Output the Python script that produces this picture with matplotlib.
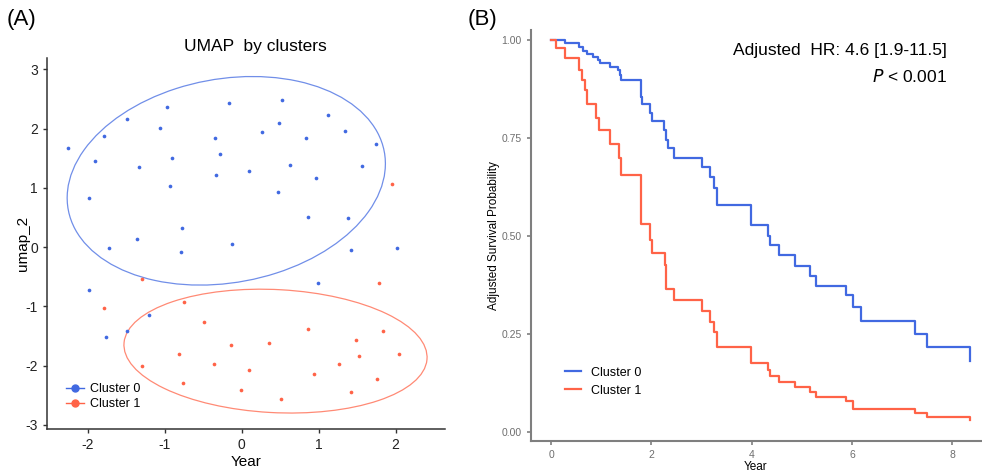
import numpy as np
import matplotlib
matplotlib.use("Agg")
import matplotlib.pyplot as plt
from matplotlib.lines import Line2D
from matplotlib.patches import Ellipse

plt.rcParams['font.family'] = ['Liberation Sans', 'DejaVu Sans']
plt.rcParams['axes.unicode_minus'] = False

# ---------------- Data ----------------
# Panel A: UMAP coordinates
c0_x = [-2.26, -1.79, -1.49, -0.965, -0.16, -1.905, -1.06, -0.35, -0.28, -0.905,
        -1.33, -0.33, 0.10, -0.935, -1.98, -0.78, -1.36, -1.72, -0.12, -0.79,
        0.52, 1.12, 0.485, 0.27, 1.34, 0.835, 1.745, 0.63, 1.56, 0.97,
        0.475, 0.86, 1.385, 1.42, 2.02, -1.98, -1.20, -1.485, -1.77, 0.99]
c0_y = [1.67, 1.88, 2.16, 2.36, 2.44, 1.46, 2.01, 1.85, 1.58, 1.50,
        1.35, 1.21, 1.29, 1.03, 0.83, 0.33, 0.13, -0.01, 0.06, -0.09,
        2.48, 2.23, 2.10, 1.94, 1.96, 1.85, 1.74, 1.38, 1.37, 1.17,
        0.93, 0.51, 0.49, -0.05, -0.01, -0.725, -1.15, -1.42, -1.52, -0.60]
c1_x = [1.96, -1.29, -1.79, -0.75, -0.485, -0.82, -0.14, -1.29, -0.36, 0.09,
        -0.76, -0.01, 1.79, 0.865, 1.84, 1.48, 0.36, 1.53, 2.04, 1.26,
        0.94, 1.76, 0.515, 1.415]
c1_y = [1.06, -0.545, -1.02, -0.92, -1.26, -1.80, -1.66, -2.00, -1.98, -2.07,
        -2.30, -2.41, -0.60, -1.38, -1.41, -1.56, -1.61, -1.84, -1.80, -1.98,
        -2.14, -2.23, -2.56, -2.45]
clusters = ["Cluster 0", "Cluster 1"]

# 95% cluster ellipses (centre, full axes lengths, rotation in degrees)
ell_cx = [-0.20, 0.44]
ell_cy = [1.12, -1.755]
ell_w = [4.256, 3.948]
ell_h = [3.376, 2.076]
ell_angle = [22.7, -4.2]

# Panel B: adjusted survival curves
times0 = [0, 0.27, 0.56, 0.64, 0.71, 0.84, 0.94, 0.97, 1.17, 1.33, 1.37, 1.40,
          1.80, 1.81, 1.97, 2.02, 2.26, 2.30, 2.33, 2.45, 3.01, 3.16, 3.25, 3.31,
          3.99, 4.33, 4.36, 4.55, 4.87, 5.17, 5.28, 5.88, 6.01, 6.18, 7.26, 7.50, 8.36]
surv0 = [1.00, 0.992, 0.983, 0.973, 0.964, 0.957, 0.949, 0.941, 0.932, 0.923, 0.911, 0.898,
         0.855, 0.837, 0.813, 0.793, 0.770, 0.745, 0.724, 0.700, 0.677, 0.650, 0.623, 0.580,
         0.528, 0.500, 0.477, 0.452, 0.424, 0.399, 0.372, 0.349, 0.318, 0.284, 0.249, 0.218, 0.180]
times1 = [0, 0.09, 0.27, 0.56, 0.61, 0.67, 0.71, 0.89, 0.95, 1.17, 1.35, 1.40,
          1.79, 1.80, 1.97, 2.02, 2.27, 2.29, 2.45, 3.01, 3.17, 3.25, 3.31,
          3.99, 4.33, 4.36, 4.55, 4.87, 5.17, 5.28, 5.88, 6.01, 7.26, 7.50, 8.36]
surv1 = [1.00, 0.979, 0.955, 0.925, 0.898, 0.872, 0.837, 0.801, 0.770, 0.736, 0.698, 0.656,
         0.571, 0.531, 0.490, 0.456, 0.426, 0.366, 0.337, 0.308, 0.280, 0.256, 0.217,
         0.175, 0.158, 0.143, 0.128, 0.116, 0.103, 0.090, 0.080, 0.058, 0.048, 0.037, 0.031]

hr_text = "Adjusted  HR: 4.6 [1.9-11.5]"
p_text = r"$\it{P}$ < 0.001"

BLUE = "#4169E1"
RED = "#FF6347"

fig = plt.figure(figsize=(9.82, 4.73), dpi=100)

# ---------------- Panel A ----------------
axA = fig.add_axes([0.0479, 0.093, 0.405, 0.784])
for i, col in enumerate([BLUE, RED]):
    axA.add_patch(Ellipse((ell_cx[i], ell_cy[i]), ell_w[i], ell_h[i], angle=ell_angle[i],
                          fill=False, edgecolor=col, lw=0.9, alpha=0.75, zorder=2))
for xs, ys, col in [(c0_x, c0_y, BLUE), (c1_x, c1_y, RED)]:
    axA.scatter(xs, ys, s=7, color=col, zorder=3, linewidths=0)
axA.set_xlim(-2.53, 2.64)
axA.set_ylim(-3.07, 3.19)
axA.set_xticks([-2, -1, 0, 1, 2])
axA.set_yticks([-3, -2, -1, 0, 1, 2, 3])
for s in ["top", "right"]:
    axA.spines[s].set_visible(False)
for s in ["left", "bottom"]:
    axA.spines[s].set_color("#333333")
    axA.spines[s].set_linewidth(1.1)
axA.tick_params(colors="#333333", labelsize=10, length=3, width=1)
for lab in axA.get_xticklabels() + axA.get_yticklabels():
    lab.set_color("#222222")
axA.set_xlabel("Year", fontsize=11, labelpad=2)
axA.set_ylabel("umap_2", fontsize=11, labelpad=-3)
axA.text(0.523, 1.032, "UMAP  by clusters", transform=axA.transAxes, ha="center", va="center",
         fontsize=12.5)
handlesA = [Line2D([0], [0], color=c, marker="o", markersize=5, lw=1.0) for c in (BLUE, RED)]
axA.legend(handlesA, clusters, loc="lower left", bbox_to_anchor=(0.02, 0.02), frameon=False,
           fontsize=9, handlelength=1.4, handletextpad=0.5, labelspacing=0.25)

# ---------------- Panel B ----------------
axB = fig.add_axes([0.5407, 0.0677, 0.4583, 0.869])
axB.step(times0, surv0, where="post", color=BLUE, lw=1.6, label=clusters[0])
axB.step(times1, surv1, where="post", color=RED, lw=1.6, label=clusters[1])
axB.set_xlim(-0.40, 8.57)
axB.set_ylim(-0.023, 1.026)
axB.set_xticks([0, 2, 4, 6, 8])
axB.set_yticks([0.0, 0.25, 0.5, 0.75, 1.0])
axB.set_yticklabels(["0.00", "0.25", "0.50", "0.75", "1.00"])
for s in ["top", "right"]:
    axB.spines[s].set_visible(False)
for s in ["left", "bottom"]:
    axB.spines[s].set_color("#7f7f7f")
    axB.spines[s].set_linewidth(1.5)
axB.tick_params(colors="#7f7f7f", labelsize=7.5, length=3, width=1.2, labelcolor="#6e6e6e")
axB.set_xlabel("Year", fontsize=8.5, labelpad=1)
axB.set_ylabel("Adjusted Survival Probability", fontsize=8.5, labelpad=1)
axB.text(0.925, 0.950, hr_text, transform=axB.transAxes, ha="right", va="center", fontsize=12.5)
axB.text(0.925, 0.886, p_text, transform=axB.transAxes, ha="right", va="center", fontsize=12.5)
axB.legend(loc="lower left", bbox_to_anchor=(0.05, 0.08), frameon=False, fontsize=9,
           handlelength=1.3, handletextpad=0.8, labelspacing=0.5)

fig.text(0.007, 0.958, "(A)", fontsize=16, va="center", ha="left")
fig.text(0.476, 0.958, "(B)", fontsize=16, va="center", ha="left")

fig.savefig("out.png", dpi=100)
